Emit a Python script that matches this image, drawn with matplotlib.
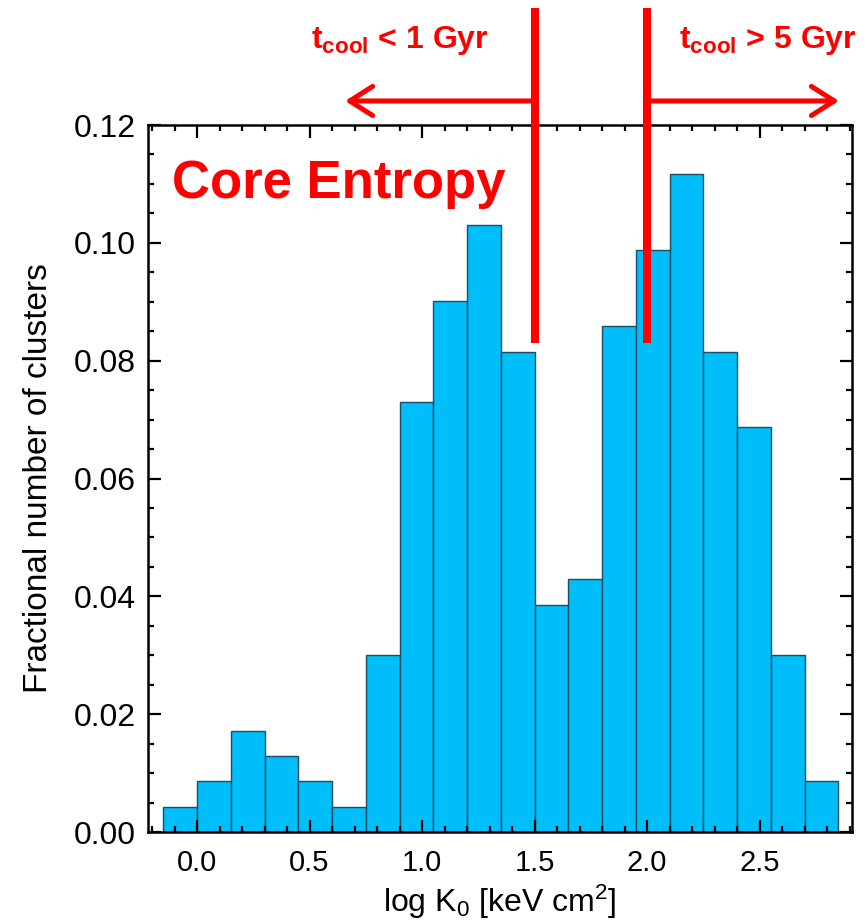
import matplotlib
matplotlib.use("Agg")
import matplotlib.pyplot as plt
from matplotlib.ticker import MultipleLocator
import numpy as np

plt.rcParams['font.family'] = ['Liberation Sans', 'DejaVu Sans']
plt.rcParams['mathtext.fontset'] = 'custom'
plt.rcParams['mathtext.rm'] = 'Liberation Sans'
plt.rcParams['mathtext.it'] = 'Liberation Sans'
plt.rcParams['mathtext.bf'] = 'Liberation Sans:bold'

# Histogram of log K0 (bin left edges) and fractional number of clusters
bin_left = [-0.15, 0.00, 0.15, 0.30, 0.45, 0.60, 0.75, 0.90, 1.05, 1.20,
            1.35, 1.50, 1.65, 1.80, 1.95, 2.10, 2.25, 2.40, 2.55, 2.70]
bin_width = 0.15
fraction = [0.0043, 0.0086, 0.0172, 0.0129, 0.0086, 0.0043, 0.0300, 0.0730,
            0.0901, 0.1030, 0.0815, 0.0386, 0.0429, 0.0858, 0.0987, 0.1116,
            0.0815, 0.0687, 0.0300, 0.0086]

x_ticks = [0.0, 0.5, 1.0, 1.5, 2.0, 2.5]
y_ticks = [0.00, 0.02, 0.04, 0.06, 0.08, 0.10, 0.12]
cut_low, cut_high = 1.5, 2.0

fig = plt.figure(figsize=(8.68, 9.21), dpi=100)
ax = fig.add_axes([148/868, 1-832/921, (852-148)/868, (832-125)/921])

ax.bar(bin_left, fraction, width=bin_width, align='edge',
       color='#00BEF9', edgecolor='#1d4d63', linewidth=1.0)

ax.set_xlim(-0.218, 2.911)
ax.set_ylim(0, 0.12)
ax.set_xticks(x_ticks)
ax.set_xticklabels([f"{v:.1f}" for v in x_ticks])
ax.set_yticks(y_ticks)
ax.set_yticklabels([f"{v:.2f}" for v in y_ticks])
ax.xaxis.set_minor_locator(MultipleLocator(0.1))
ax.yaxis.set_minor_locator(MultipleLocator(0.005))
ax.tick_params(which='both', direction='in', top=True, right=True, width=1.6, colors='black')
ax.tick_params(which='major', length=9)
ax.tick_params(which='minor', length=4.5)
ax.tick_params(axis='x', which='major', pad=12, labelsize=21)
ax.tick_params(axis='y', which='major', pad=9, labelsize=23)
for s in ax.spines.values():
    s.set_linewidth(1.8)

ax.set_xlabel(r'log K$_0$ [keV cm$^2$]', fontsize=23)
ax.xaxis.label.set_va('baseline')
ax.xaxis.set_label_coords(0.5, -(912 - 832) / 707)
ax.set_ylabel('Fractional number of clusters', fontsize=24, labelpad=14)

red = '#FF0000'
# vertical cut lines
for xc in (cut_low, cut_high):
    ax.plot([xc, xc], [0.083, 0.1399], color=red, lw=5.8, solid_capstyle='butt',
            clip_on=False, zorder=5)

# arrows
ap = dict(arrowstyle='->,head_length=0.55,head_width=0.35', color=red, lw=3.6,
          mutation_scale=30, shrinkA=0, shrinkB=0)
ax.annotate('', xy=(0.658, 1.034), xytext=(cut_low - 0.01, 1.034),
            xycoords=('data', 'axes fraction'), textcoords=('data', 'axes fraction'),
            arrowprops=ap, annotation_clip=False)
ax.annotate('', xy=(2.853, 1.034), xytext=(cut_high + 0.01, 1.034),
            xycoords=('data', 'axes fraction'), textcoords=('data', 'axes fraction'),
            arrowprops=ap, annotation_clip=False)

ax.text(0.902, 0.1344, r't$_{\mathbf{cool}}$ < 1 Gyr', color=red, fontsize=23,
        fontweight='bold', ha='center', va='center', clip_on=False)
ax.text(2.538, 0.1344, r't$_{\mathbf{cool}}$ > 5 Gyr', color=red, fontsize=23,
        fontweight='bold', ha='center', va='center', clip_on=False)

ax.text(-0.111, 0.1076, 'Core Entropy', color=red, fontsize=38, fontweight='bold',
        ha='left', va='baseline')

fig.savefig('out.png', dpi=100)
